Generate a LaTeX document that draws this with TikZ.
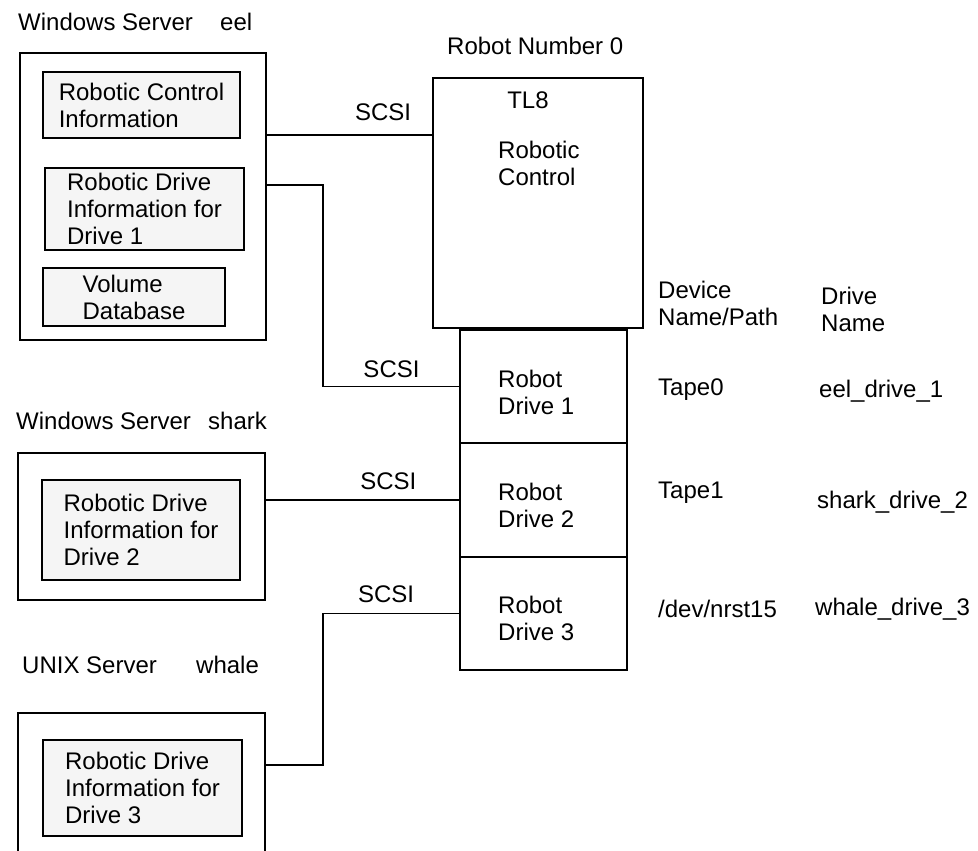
\documentclass[tikz,border=0pt]{standalone}
\usepackage{fontspec}
\setmainfont{Liberation Sans}
\usetikzlibrary{positioning}
\tikzstyle{txt} = [inner sep=0pt, align=left, font=\fontsize{24}{27}\selectfont]
\tikzstyle{server} = [rectangle, draw=black, line width=2.2pt]
\tikzstyle{infobox} = [rectangle, draw=black, line width=1.8pt, fill=black!4, align=left, font=\fontsize{24}{27}\selectfont]
\tikzstyle{robotbox} = [rectangle, draw=black, line width=2.2pt, outer sep=0pt]
\tikzstyle{drivebox} = [rectangle, draw=black, line width=2pt, outer sep=0pt, minimum width=167, minimum height=113.5]
\tikzstyle{link} = [line width=1.6pt]

\begin{document}
\begin{tikzpicture}[x=1pt,y=-1pt]
\useasboundingbox (0,0) rectangle (978,851);
% server eel
\node (eelname) [txt, anchor=west] at (18,22) {Windows Server};
\node (eelhost) [txt, anchor=west] at (220,22) {eel};
\node (eel) [server, minimum width=246, minimum height=287] at (143,196.5) {};
\node (rci) [infobox, minimum width=197, minimum height=66] at (141.5,105) {Robotic Control\\Information};
\node (rdi1) [infobox, minimum width=199, minimum height=82] at (144.5,209) {Robotic Drive\\Information for\\Drive 1};
\node (vdb) [infobox, minimum width=182, minimum height=58] at (134,297) {Volume\\Database};
% robot
\node (robotname) [txt, anchor=west] at (447,46) {Robot Number 0};
\node (control) [robotbox, minimum width=210, minimum height=250] at (538,203) {};
\node (tl8) [txt] at (528,100) {TL8};
\node (rc) [txt, anchor=west] at (498,163) {Robotic\\Control};
\node (drive1) [drivebox] at (543.5,386.5) {};
\node (drive2) [drivebox, below=0pt of drive1] {};
\node (drive3) [drivebox, below=0pt of drive2] {};
\node (rd1) [txt, anchor=west] at (498,392) {Robot\\Drive 1};
\node (rd2) [txt, anchor=west] at (498,505) {Robot\\Drive 2};
\node (rd3) [txt, anchor=west] at (498,618) {Robot\\Drive 3};
% device and drive names
\node (devhead) [txt, anchor=west] at (658,303) {Device\\Name/Path};
\node (namehead) [txt, anchor=west] at (821,309) {Drive\\Name};
\node (dev1) [txt, anchor=west] at (658,390) {Tape0};
\node (name1) [txt, anchor=west] at (819,391) {eel\_drive\_1};
\node (dev2) [txt, anchor=west] at (658,493) {Tape1};
\node (name2) [txt, anchor=west] at (817,502) {shark\_drive\_2};
\node (dev3) [txt, anchor=west] at (658,609) {/dev/nrst15};
\node (name3) [txt, anchor=west] at (815,609) {whale\_drive\_3};
% server shark
\node (sharkname) [txt, anchor=west] at (16,421) {Windows Server};
\node (sharkhost) [txt, anchor=west] at (208,421) {shark};
\node (shark) [server, minimum width=247, minimum height=147] at (141.5,526.5) {};
\node (rdi2) [infobox, minimum width=198, minimum height=100] at (141,530) {Robotic Drive\\Information for\\Drive 2};
% server whale
\node (whalename) [txt, anchor=west] at (22,665) {UNIX Server};
\node (whalehost) [txt, anchor=west] at (196,665) {whale};
\node (whale) [server, minimum width=247, minimum height=187] at (141.5,806.5) {};
\node (rdi3) [infobox, minimum width=199, minimum height=96] at (142.5,788) {Robotic Drive\\Information for\\Drive 3};
% SCSI links
\coordinate (bend1) at (323,185);
\coordinate (bend3) at (323,765);
\draw [link] ([yshift=4pt]eel.east |- rci.south) -- node[txt, above=13pt, xshift=33pt] (scsi0) {SCSI} ([yshift=4pt]control.west |- rci.south);
\draw [link] (eel.east |- bend1) -- (bend1) |- node[txt, pos=0.75, above=8pt] (scsi1) {SCSI} (drive1.west);
\draw [link] (shark.east |- drive2.west) -- node[txt, pos=0.63, above=9pt] (scsi2) {SCSI} (drive2.west);
\draw [link] (drive3.west) -| node[txt, pos=0.27, above=10pt] (scsi3) {SCSI} (bend3) -- (whale.east |- bend3);
\end{tikzpicture}
\end{document}
